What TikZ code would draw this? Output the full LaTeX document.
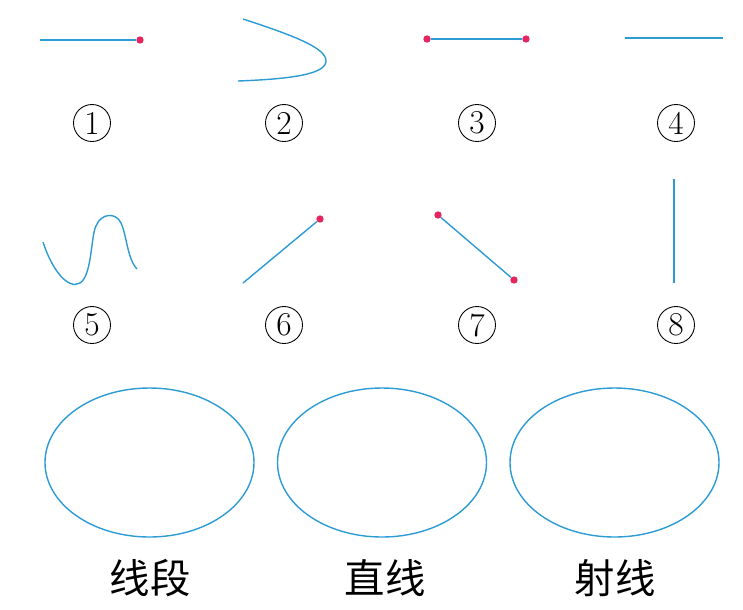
\documentclass[tikz,border=0pt]{standalone}
\usepackage{fontspec}
\newfontfamily\cjk{Noto Sans CJK SC}
\definecolor{lineblue}{RGB}{45,155,212}
\definecolor{dotred}{RGB}{228,38,96}
\begin{document}
\begin{tikzpicture}[x=0.02cm, y=-0.02cm,
  ln/.style={draw=lineblue, line width=0.8pt},
  pt/.style={circle, fill=dotred, inner sep=0pt, minimum size=4.2pt},
  num/.style={circle, draw, line width=0.5pt, inner sep=0pt, minimum size=0.74cm, font=\fontsize{19}{19}\selectfont},
  word/.style={font=\cjk\fontsize{23}{23}\selectfont}]
  \useasboundingbox (0,0) rectangle (743,609);
  % row 1
  \coordinate (a1) at (40,40);
  \node[pt] (a2) at (140,40) {};
  \draw[ln] (a1) -- (a2);
  \node[num] (n1) at (92,123) {1};
  \coordinate (b1) at (243,19);
  \coordinate (b2) at (326,61);
  \coordinate (b3) at (238,81);
  \draw[ln] (b1) .. controls (295,36) and (326,48) .. (b2)
            .. controls (326,74) and (292,79) .. (b3);
  \node[num] (n2) at (284,123) {2};
  \node[pt] (c1) at (427,39) {};
  \node[pt] (c2) at (526,39) {};
  \draw[ln] (c1) -- (c2);
  \node[num] (n3) at (477,123) {3};
  \coordinate (d1) at (625,38);
  \coordinate (d2) at (723,38);
  \draw[ln] (d1) -- (d2);
  \node[num] (n4) at (676,123) {4};
  % row 2
  \coordinate (e1) at (43,242);
  \coordinate (e2) at (137,269);
  \draw[ln] (e1) .. controls (52,270) and (68,290) .. (80,283)
            .. controls (92,276) and (91,235) .. (96,226)
            .. controls (101,213) and (116,212) .. (121,223)
            .. controls (127,236) and (127,258) .. (e2);
  \node[num] (n5) at (92,325) {5};
  \coordinate (f1) at (243,283);
  \node[pt] (f2) at (320,219) {};
  \draw[ln] (f1) -- (f2);
  \node[num] (n6) at (284,325) {6};
  \node[pt] (g1) at (438,215) {};
  \node[pt] (g2) at (514,280) {};
  \draw[ln] (g1) -- (g2);
  \node[num] (n7) at (477,325) {7};
  \coordinate (h1) at (674,179);
  \coordinate (h2) at (674,283);
  \draw[ln] (h1) -- (h2);
  \node[num] (n8) at (676,325) {8};
  % sets
  \draw[ln] (149.5,462.5) ellipse [x radius=104.5, y radius=74.5];
  \draw[ln] (382,462.5) ellipse [x radius=104.5, y radius=74.5];
  \draw[ln] (614.5,462.5) ellipse [x radius=104.5, y radius=74.5];
  \node[word] (s1) at (150,578) {线段};
  \node[word] (s2) at (385,578) {直线};
  \node[word] (s3) at (615,578) {射线};
\end{tikzpicture}
\end{document}
